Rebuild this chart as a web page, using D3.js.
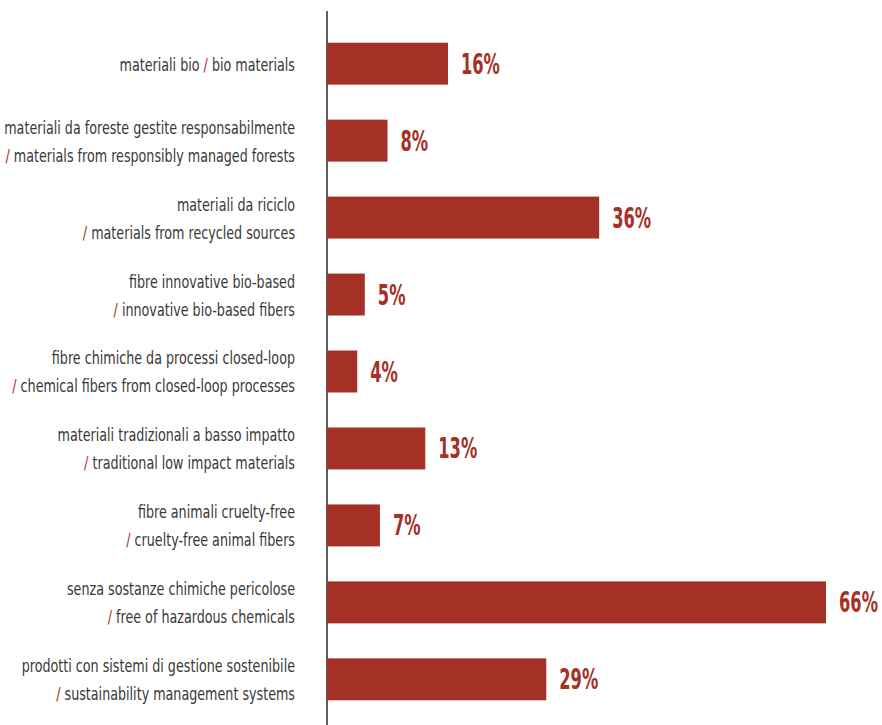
<!DOCTYPE html>
<html><head><meta charset="utf-8">
<script src="https://cdn.jsdelivr.net/npm/d3@7"></script>
<style>
body{margin:0;background:#fff;}
svg{display:block;}
</style></head>
<body>
<svg id="chart" width="882" height="725"></svg>
<script>
const labelsIt = [
  "materiali bio",
  "materiali da foreste gestite responsabilmente",
  "materiali da riciclo",
  "fibre innovative bio-based",
  "fibre chimiche da processi closed-loop",
  "materiali tradizionali a basso impatto",
  "fibre animali cruelty-free",
  "senza sostanze chimiche pericolose",
  "prodotti con sistemi di gestione sostenibile"
];
const labelsEn = [
  "bio materials",
  "materials from responsibly managed forests",
  "materials from recycled sources",
  "innovative bio-based fibers",
  "chemical fibers from closed-loop processes",
  "traditional low impact materials",
  "cruelty-free animal fibers",
  "free of hazardous chemicals",
  "sustainability management systems"
];
const values = [16, 8, 36, 5, 4, 13, 7, 66, 29];
const singleLine = [true, false, false, false, false, false, false, false, false];

const red = "#a53026";
const FONT = "'DejaVu Sans Condensed','DejaVu Sans',sans-serif";
const svg = d3.select("#chart");
const x = d3.scaleLinear().domain([0, 66]).range([327, 826]);
const y = d3.scaleBand().domain(d3.range(values.length)).range([25, 718]).paddingInner(0.455).paddingOuter(0.23);

svg.append("line").attr("x1", 327).attr("x2", 327).attr("y1", 11).attr("y2", 725)
  .attr("stroke", "#2a2a2a").attr("stroke-width", 1.5);

svg.selectAll("rect.bar").data(values).join("rect").attr("class","bar")
  .attr("x", x(0)).attr("y", (d,i)=>y(i)).attr("width", d=>x(d)-x(0)).attr("height", y.bandwidth())
  .attr("fill", red);

// value labels, horizontally condensed to match the reference's narrow typeface
const probeV = svg.append("text").attr("font-family", FONT).attr("font-weight","bold")
  .attr("font-size", 29).text("16%");
const vScale = 39 / probeV.node().getComputedTextLength();
probeV.remove();

svg.selectAll("g.val").data(values).join("g").attr("class","val")
  .attr("transform", (d,i)=>`translate(${x(d)+13},${y(i)+y.bandwidth()/2+10}) scale(${vScale},1)`)
  .append("text")
  .attr("font-family", FONT).attr("font-weight","bold").attr("font-size", 29).attr("fill", red)
  .text(d=>d+"%");

// category labels
const probeL = svg.append("text").attr("font-family", FONT).attr("font-size", 17)
  .text(labelsIt[1]);
const lScale = 291 / probeL.node().getComputedTextLength();
probeL.remove();

const lab = svg.append("g").attr("transform", `translate(295,0) scale(${lScale},1)`)
  .attr("font-family", FONT).attr("font-size", 17).attr("fill", "#383838").attr("text-anchor","end");

values.forEach((v,i)=>{
  const cy = y(i)+y.bandwidth()/2;
  if (singleLine[i]) {
    const t = lab.append("text").attr("x", 0).attr("y", cy+7);
    t.append("tspan").text(labelsIt[i]+" ");
    t.append("tspan").attr("fill", red).text("/");
    t.append("tspan").text(" "+labelsEn[i]);
  } else {
    lab.append("text").attr("x", 0).attr("y", cy-7).text(labelsIt[i]);
    const t = lab.append("text").attr("x", 0).attr("y", cy+21);
    t.append("tspan").attr("fill", red).text("/");
    t.append("tspan").text(" "+labelsEn[i]);
  }
});
</script>
</body></html>
